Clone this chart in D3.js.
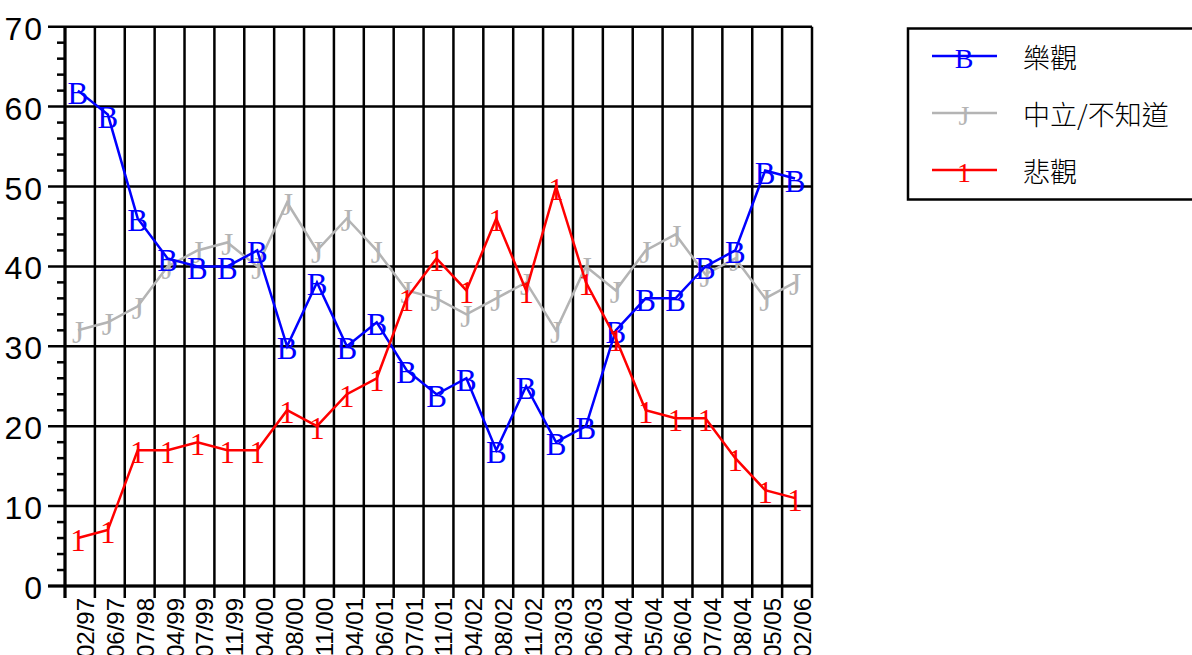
<!DOCTYPE html>
<html>
<head>
<meta charset="utf-8">
<script src="https://cdn.jsdelivr.net/npm/d3@7"></script>
<style>
  body { margin: 0; background: #fff; }
  svg { display: block; }
</style>
</head>
<body>
<div id="chart"></div>
<script>
// survey dates (month/year)
const categories = ["02/97", "06/97", "07/98", "04/99", "07/99", "11/99", "04/00", "08/00", "11/00",
  "04/01", "06/01", "07/01", "11/01", "04/02", "08/02", "11/02", "03/03", "06/03", "04/04",
  "05/04", "06/04", "07/04", "08/04", "05/05", "02/06"];

const optimistic = [62, 59, 46, 41, 40, 40, 42, 30, 38, 30, 33, 27, 24, 26, 17, 25, 18, 20, 32, 36, 36, 40, 42, 52, 51];
const neutral    = [32, 33, 35, 40, 42, 43, 40, 48, 42, 46, 42, 37, 36, 34, 36, 38, 32, 40, 37, 42, 44, 39, 41, 36, 38];
const pessimistic = [6, 7, 17, 17, 18, 17, 17, 22, 20, 24, 26, 36, 41, 37, 46, 37, 50, 38, 31, 22, 21, 21, 16, 12, 11];

const seriesNames = ["樂觀", "中立/不知道", "悲觀"];
const yTicks = [0, 10, 20, 30, 40, 50, 60, 70];

(function() {
  const W = 1192, H = 655;
  const left = 65, right = 812, top = 26.7, bottom = 586;

  const svg = d3.select("#chart").append("svg")
    .attr("width", W)
    .attr("height", H);

  const x = d3.scaleBand().domain(categories).range([left, right]).padding(0);
  const y = d3.scaleLinear().domain([0, 70]).range([bottom, top]);
  const px = c => x(c) + x.bandwidth() / 2 - 2;

  const series = [
    { name: seriesNames[1], values: neutral, color: "#b4b4b4", glyph: "J" },
    { name: seriesNames[0], values: optimistic, color: "#0000ff", glyph: "B" },
    { name: seriesNames[2], values: pessimistic, color: "#ff0000", glyph: "1" }
  ];

  // minor ticks every 2
  const minor = d3.range(0, 71, 2).filter(v => v % 10 !== 0);
  svg.append("g").selectAll("line")
    .data(minor)
    .enter().append("line")
    .attr("x1", left - 8).attr("x2", left)
    .attr("y1", d => y(d)).attr("y2", d => y(d))
    .attr("stroke", "#000").attr("stroke-width", 2.5);

  // horizontal grid (also the major ticks)
  svg.append("g").selectAll("line")
    .data(yTicks)
    .enter().append("line")
    .attr("x1", left - 17).attr("x2", right)
    .attr("y1", d => y(d)).attr("y2", d => y(d))
    .attr("stroke", "#000").attr("stroke-width", 2.5);

  // vertical grid at category boundaries, running below the axis as ticks
  const bounds = categories.map(c => x(c)).concat([right]);
  svg.append("g").selectAll("line")
    .data(bounds)
    .enter().append("line")
    .attr("x1", d => d).attr("x2", d => d)
    .attr("y1", top).attr("y2", bottom + 12)
    .attr("stroke", "#000").attr("stroke-width", 2.5);

  // axis lines a bit heavier
  svg.append("line")
    .attr("x1", left).attr("x2", left).attr("y1", top).attr("y2", bottom + 12)
    .attr("stroke", "#000").attr("stroke-width", 3);
  svg.append("line")
    .attr("x1", left - 17).attr("x2", right).attr("y1", bottom).attr("y2", bottom)
    .attr("stroke", "#000").attr("stroke-width", 3);

  // y labels
  svg.append("g").selectAll("text")
    .data(yTicks)
    .enter().append("text")
    .attr("x", 44)
    .attr("y", d => y(d) + 13)
    .attr("text-anchor", "end")
    .style("font-family", "'Liberation Sans', Arial, sans-serif")
    .style("font-size", "32px")
    .style("letter-spacing", "2px")
    .text(d => d);

  // x labels, rotated
  svg.append("g").selectAll("text")
    .data(categories)
    .enter().append("text")
    .attr("transform", c => `translate(${x(c) + x.bandwidth() - 1}, 598) rotate(-90)`)
    .attr("text-anchor", "end")
    .style("font-family", "'Liberation Sans', Arial, sans-serif")
    .style("font-size", "24px")
    .text(c => c);

  const line = d3.line()
    .x((d, i) => px(categories[i]))
    .y(d => y(d));

  series.forEach(s => {
    const g = svg.append("g");
    g.append("path")
      .attr("d", line(s.values))
      .attr("fill", "none")
      .attr("stroke", s.color)
      .attr("stroke-width", 2.5);
    g.selectAll("text")
      .data(s.values)
      .enter().append("text")
      .attr("x", (d, i) => px(categories[i]))
      .attr("y", d => y(d) + 13)
      .attr("text-anchor", "middle")
      .attr("fill", s.color)
      .style("font-family", "'Liberation Serif', 'Times New Roman', serif")
      .style("font-size", "31px")
      .text(s.glyph);
  });

  // legend
  const lg = svg.append("g");
  lg.append("rect")
    .attr("x", 908).attr("y", 28.5)
    .attr("width", 320).attr("height", 171)
    .attr("fill", "#fff")
    .attr("stroke", "#000").attr("stroke-width", 2.5);

  const legendOrder = [series[1], series[0], series[2]];
  legendOrder.forEach((s, i) => {
    const ly = 56 + i * 57;
    lg.append("line")
      .attr("x1", 932).attr("x2", 997)
      .attr("y1", ly).attr("y2", ly)
      .attr("stroke", s.color).attr("stroke-width", 2.5);
    lg.append("text")
      .attr("x", 964).attr("y", ly + 12)
      .attr("text-anchor", "middle")
      .attr("fill", s.color)
      .style("font-family", "'Liberation Serif', 'Times New Roman', serif")
      .style("font-size", "28px")
      .text(s.glyph);
    lg.append("text")
      .attr("x", 1023).attr("y", ly)
      .attr("dominant-baseline", "central")
      .style("font-family", "'Noto Sans CJK TC', 'Noto Sans CJK SC', sans-serif")
      .style("font-size", "27px")
      .style("font-weight", 300)
      .text(s.name);
  });
})();
</script>
</body>
</html>
